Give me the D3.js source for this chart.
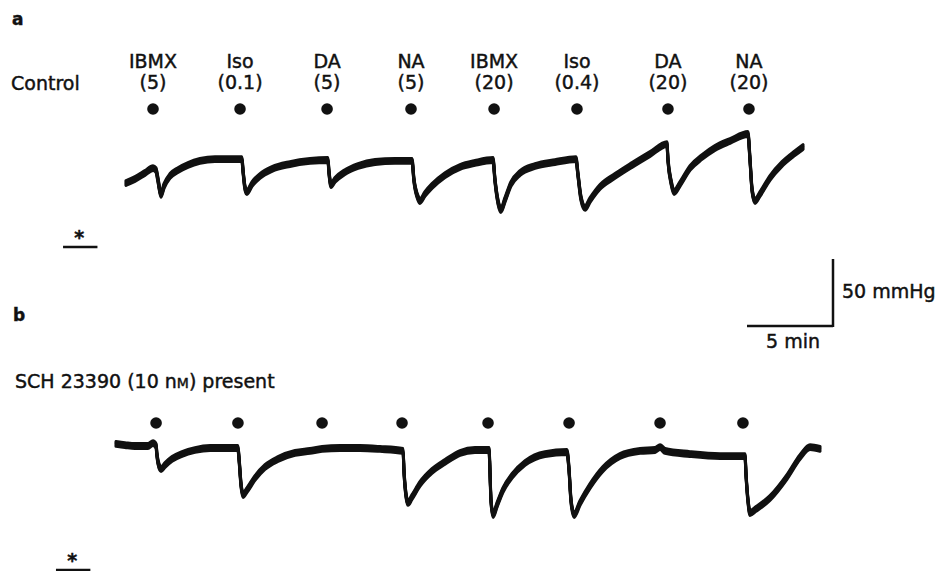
<!DOCTYPE html>
<html lang="en">
<head>
    <meta charset="UTF-8">
    <script src="https://d3js.org/d3.v7.min.js"></script>
    <style>
        body{ margin:0; background:#fff; }
        text{ font-family:"DejaVu Sans", sans-serif; fill:#111; stroke:#111; stroke-width:0.45px; }
        .trace{ fill:none; stroke:#111; stroke-width:3; stroke-linejoin:round; stroke-linecap:round; }
        .bar{ stroke:#111; stroke-width:2.5; }
    </style>
    <title>Perfusion pressure traces</title>
</head>
<body>
    <svg width="937" height="571"></svg>
    <script>

        // drugs given at each dot, with dose in brackets
        const agents = ["IBMX","Iso","DA","NA","IBMX","Iso","DA","NA"];
        const doses = ["(5)","(0.1)","(5)","(5)","(20)","(0.4)","(20)","(20)"];

        // injection times (min from start of each trace)
        const doseTimesA = [1.57, 6.63, 11.69, 16.57, 21.40, 26.22, 31.51, 36.22];
        const doseTimesB = [2.33, 7.09, 11.98, 16.63, 21.63, 26.34, 31.63, 36.45];

        // traces: [time (min), perfusion pressure (mmHg)]
        const traceA = [
            [0,82.8],[0.52,85.8],[1.10,90.3],[1.57,94.0],[1.74,92.5],[1.86,85.1],[2.03,73.9],[2.21,80.6],
            [2.56,88.1],[3.02,92.5],[3.60,96.3],[4.30,99.3],[5.17,100.7],[6.05,100.7],[6.74,100.7],
            [6.80,92.5],[6.92,79.1],[7.03,76.1],[7.33,82.1],[7.79,88.1],[8.49,93.3],[9.53,97.0],[10.70,99.3],
            [11.74,100],[11.80,91.0],[11.92,81.3],[12.15,85.1],[12.73,91.0],[13.49,95.5],[14.48,98.5],
            [15.64,99.3],[16.63,99.3],[16.74,85.1],[16.98,71.6],[17.09,69.4],[17.38,74.6],[17.79,80.6],
            [18.55,88.8],[19.42,94.8],[20.29,97.8],[21.34,100],[21.45,85.1],[21.63,68.7],[21.80,62.7],
            [22.03,70.1],[22.38,82.1],[22.91,90.3],[23.78,95.5],[24.94,98.5],[26.16,100.7],[26.28,88.8],
            [26.45,71.6],[26.69,64.2],[26.98,70.1],[27.56,79.9],[28.43,88.1],[29.42,96.3],[30.47,104.5],
            [31.45,111.9],[31.51,100],[31.69,83.6],[31.86,76.1],[32.21,82.1],[32.79,94.0],[33.49,102.2],
            [34.24,109.0],[35.12,114.2],[36.16,119.4],[36.28,100],[36.40,77.6],[36.57,69.4],[36.86,74.6],
            [37.44,86.6],[38.14,97.0],[38.90,105.2],[39.36,109.7]
        ];

        const traceB = [
            [0,103.0],[0.52,102.2],[1.10,101.5],[1.86,101.5],[2.15,103.7],[2.33,101.5],[2.38,94.8],[2.50,86.6],
            [2.62,84.3],[2.85,87.3],[3.26,91.8],[3.84,95.5],[4.59,98.5],[5.47,100],[6.34,100],[7.09,100],
            [7.15,92.5],[7.27,72.4],[7.38,64.9],[7.62,68.7],[8.08,77.6],[8.66,85.8],[9.42,91.8],[10.41,96.3],
            [11.28,97.8],[11.98,99.3],[13.02,100],[14.19,100],[15.35,99.3],[16.69,97.8],[16.74,83.6],
            [16.86,64.9],[16.98,59.0],[17.21,63.4],[17.67,73.1],[18.37,82.8],[19.13,89.6],[20.00,96.3],
            [20.87,98.5],[21.69,98.5],[21.74,83.6],[21.80,61.2],[21.92,50.0],[22.15,57.5],[22.50,68.7],
            [23.02,79.1],[23.78,88.8],[24.94,95.5],[26.22,97.0],[26.34,83.6],[26.45,61.2],[26.63,50.0],
            [26.98,59.0],[27.56,71.6],[28.31,84.3],[29.30,94.0],[30.47,97.8],[31.34,98.5],[31.63,100.7],
            [31.92,97.8],[33.37,95.5],[35.12,94.0],[36.57,94.0],[36.63,79.9],[36.74,61.2],[36.86,51.5],
            [37.21,54.5],[38.02,62.7],[39.01,78.4],[39.77,93.3],[40.35,100.7],[40.93,99.3]
        ];

        const svg = d3.select("svg");

        // scales: 5 min = 86 px, 50 mmHg = 67 px
        const xA = d3.scaleLinear().domain([0, 40]).range([126, 814]);
        const xB = d3.scaleLinear().domain([0, 40]).range([116, 804]);
        const yA = d3.scaleLinear().domain([50, 100]).range([227, 160]);
        const yB = d3.scaleLinear().domain([50, 100]).range([515, 448]);

        function drawPanel(trace, times, x, y, dotY, withLabels){
            const line = d3.line()
                .x(d => x(d[0]))
                .y(d => y(d[1]))
                .curve(d3.curveMonotoneX);

            // pen trace: thick on the slow parts, thin on the fast drops
            svg.selectAll(null)
                .data([-2.4, -1.2, 0, 1.2, 2.4])
                .enter().append("path")
                .attr("class","trace")
                .attr("transform", d => `translate(0,${d})`)
                .attr("d", line(trace));

            svg.selectAll(null)
                .data(times)
                .enter().append("circle")
                .attr("cx", d => x(d))
                .attr("cy", dotY)
                .attr("r", 5.8)
                .attr("fill","#111");

            if(withLabels){
                svg.selectAll(null)
                    .data(times)
                    .enter().append("text")
                    .attr("x", d => x(d))
                    .attr("y", 68)
                    .attr("text-anchor","middle")
                    .attr("font-size", 19)
                    .text((d,i) => agents[i]);

                svg.selectAll(null)
                    .data(times)
                    .enter().append("text")
                    .attr("x", d => x(d))
                    .attr("y", 89)
                    .attr("text-anchor","middle")
                    .attr("font-size", 19)
                    .text((d,i) => doses[i]);
            }
        }

        drawPanel(traceA, doseTimesA, xA, yA, 109, true);
        drawPanel(traceB, doseTimesB, xB, yB, 423, false);

        // panel letters and conditions
        svg.append("text").attr("x",12).attr("y",25)
            .attr("font-size",17).attr("font-weight","bold").text("a");
        svg.append("text").attr("x",13).attr("y",321)
            .attr("font-size",17).attr("font-weight","bold").text("b");
        svg.append("text").attr("x",11).attr("y",90)
            .attr("font-size",19).text("Control");

        const sch = svg.append("text").attr("x",15).attr("y",388).attr("font-size",19);
        sch.append("tspan").text("SCH 23390 (10 n");
        sch.append("tspan").attr("font-size",14).text("M");
        sch.append("tspan").text(") present");

        // asterisk bars (2 min)
        function star(x, x0, yBar){
            svg.append("line").attr("class","bar")
                .attr("x1", x(x0)).attr("x2", x(x0 + 2))
                .attr("y1", yBar).attr("y2", yBar);
            svg.append("text")
                .attr("x", (x(x0) + x(x0 + 2)) / 2 - 1)
                .attr("y", yBar - 3)
                .attr("text-anchor","middle")
                .attr("font-size",19)
                .attr("font-weight","bold")
                .text("*");
        }
        star(xA, -3.66, 247);
        star(xB, -3.49, 570);

        // calibration bars
        const cx = 833, cy = 326;
        const w5 = xA(5) - xA(0);
        const h50 = yA(50) - yA(100);
        svg.append("line").attr("class","bar")
            .attr("x1", cx - w5).attr("x2", cx).attr("y1", cy).attr("y2", cy);
        svg.append("line").attr("class","bar")
            .attr("x1", cx).attr("x2", cx).attr("y1", cy - h50).attr("y2", cy + 1);
        svg.append("text").attr("x", cx + 9).attr("y", 298)
            .attr("font-size",19).text("50 mmHg");
        svg.append("text").attr("x", cx - w5 / 2 + 3).attr("y", 348)
            .attr("text-anchor","middle").attr("font-size",19).text("5 min");

    </script>
</body>
</html>
